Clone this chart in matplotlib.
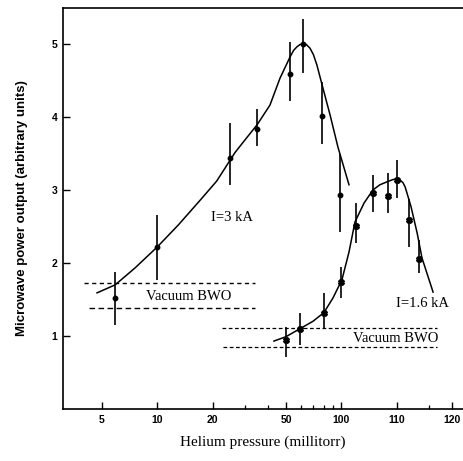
import numpy as np
import matplotlib
matplotlib.use("Agg")
import matplotlib.pyplot as plt
from matplotlib.ticker import FixedLocator, NullFormatter

# I = 3 kA measurements (pressure in axis units, power output)
p_3ka = [5.9, 10.0, 24.8, 34.8, 52.6, 61.8, 78.5, 98.0]
y_3ka = [1.52, 2.22, 3.44, 3.84, 4.59, 5.00, 4.01, 2.93]
lo_3ka = [1.15, 1.77, 3.07, 3.60, 4.21, 4.60, 3.63, 2.42]
hi_3ka = [1.88, 2.66, 3.92, 4.11, 5.03, 5.34, 4.48, 3.49]

# hand-drawn curve through the I = 3 kA data
cp_3ka = [4.7, 5.9, 7.55, 10.0, 13.0, 17.1, 21.0, 26.4, 30.5, 34.8, 40.9,
          46.4, 52.6, 55.0, 57.4, 59.6, 61.8, 64.5, 67.5, 70.5, 73.6, 78.5,
          86.7, 95.9, 110.0]
cy_3ka = [1.59, 1.70, 1.93, 2.22, 2.52, 2.86, 3.12, 3.51, 3.71, 3.89, 4.16,
          4.53, 4.82, 4.91, 4.96, 4.99, 5.00, 4.99, 4.94, 4.85, 4.71, 4.44,
          4.03, 3.58, 3.07]

# I = 1.6 kA measurements
p_16ka = [50.0, 59.6, 80.4, 99.6, 120.0, 148.6, 179.0, 200.5, 233.0, 264.0]
y_16ka = [0.95, 1.10, 1.31, 1.74, 2.51, 2.96, 2.92, 3.14, 2.59, 2.05]
lo_16ka = [0.71, 0.88, 1.10, 1.52, 2.27, 2.70, 2.68, 2.89, 2.22, 1.86]
hi_16ka = [1.12, 1.32, 1.59, 1.95, 2.82, 3.21, 3.23, 3.41, 2.88, 2.32]

cp_16ka = [43.0, 50.0, 59.6, 70.0, 80.4, 90.0, 100.7, 110.0, 118.5, 132.8,
           148.6, 162.0, 177.0, 190.0, 200.5, 209.0, 216.0, 222.0, 227.0,
           239.0, 258.0, 274.0, 315.0]
cy_16ka = [0.93, 0.99, 1.10, 1.20, 1.32, 1.52, 1.77, 2.15, 2.56, 2.82,
           3.00, 3.07, 3.11, 3.14, 3.15, 3.13, 3.10, 3.04, 2.96,
           2.77, 2.41, 2.07, 1.60]

# vacuum BWO levels
vac_3ka = [1.73, 1.38]
vac_3ka_x = [(3.99, 34.0), (4.25, 34.0)]
vac_16ka = [1.11, 0.85]
vac_16ka_x = [(22.4, 331.0), (22.6, 331.0)]

xticks = [5, 10, 20, 50, 100, 200, 400]
xticklabels = ['5', '10', '20', '50', '100', '110', '120']
xminor = [30, 40, 60, 70, 80, 90, 300]
yticks = [1, 2, 3, 4, 5]

fig = plt.figure(figsize=(4.63, 4.61), dpi=100)
ax = fig.add_axes([63/463, 52/461, 400/463, 401/461])

serif = 'Liberation Serif'
sans = 'Liberation Sans'

# curves
ax.plot(cp_3ka, cy_3ka, color='black', lw=1.1)
ax.plot(cp_16ka, cy_16ka, color='black', lw=1.1)

# data with error bars
ax.vlines(p_3ka, lo_3ka, hi_3ka, color='black', lw=1.2)
ax.plot(p_3ka, y_3ka, 'o', color='black', ms=3.2)
ax.vlines(p_16ka, lo_16ka, hi_16ka, color='black', lw=1.2)
ax.plot(p_16ka, y_16ka, 'X', color='black', ms=4.2)

# vacuum BWO bands
for yv, (x0, x1), ls in zip(vac_3ka, vac_3ka_x, [(0, (3, 2.5)), (0, (4, 2.5))]):
    ax.plot([x0, x1], [yv, yv], color='black', lw=1.0, linestyle=ls)
for yv, (x0, x1) in zip(vac_16ka, vac_16ka_x):
    ax.plot([x0, x1], [yv, yv], color='black', lw=0.9, linestyle=(0, (3, 2)))

ax.text(14.8, 1.535, 'Vacuum BWO', family=serif, fontsize=10.5,
        ha='center', va='center')
ax.text(198, 0.97, 'Vacuum BWO', family=serif, fontsize=10.5,
        ha='center', va='center')
ax.text(19.6, 2.62, 'I=3 kA', family=serif, fontsize=10.5,
        ha='left', va='center')
ax.text(198, 1.44, 'I=1.6 kA', family=serif, fontsize=10.5,
        ha='left', va='center')

ax.set_xscale('log')
ax.set_xlim(3.07, 458)
ax.set_ylim(0, 5.49)

ax.xaxis.set_major_locator(FixedLocator(xticks))
ax.set_xticklabels(xticklabels)
ax.xaxis.set_minor_locator(FixedLocator(xminor))
ax.xaxis.set_minor_formatter(NullFormatter())
ax.set_yticks(yticks)

ax.tick_params(axis='both', which='major', direction='in', length=5,
               width=1.0, labelsize=7.5, pad=4)
ax.tick_params(axis='x', which='minor', direction='in', length=3, width=0.9)
for lab in ax.get_xticklabels() + ax.get_yticklabels():
    lab.set_family(sans)
    lab.set_fontweight('bold')

ax.spines['right'].set_visible(False)
for s in ['left', 'bottom', 'top']:
    ax.spines[s].set_linewidth(1.2)

ax.set_xlabel('Helium pressure (millitorr)', family=serif, fontsize=11,
              labelpad=8)
ax.set_ylabel('Microwave power output (arbitrary units)', family=sans,
              fontsize=9.5, fontweight='bold', labelpad=17)

fig.savefig('out.png', dpi=100)
